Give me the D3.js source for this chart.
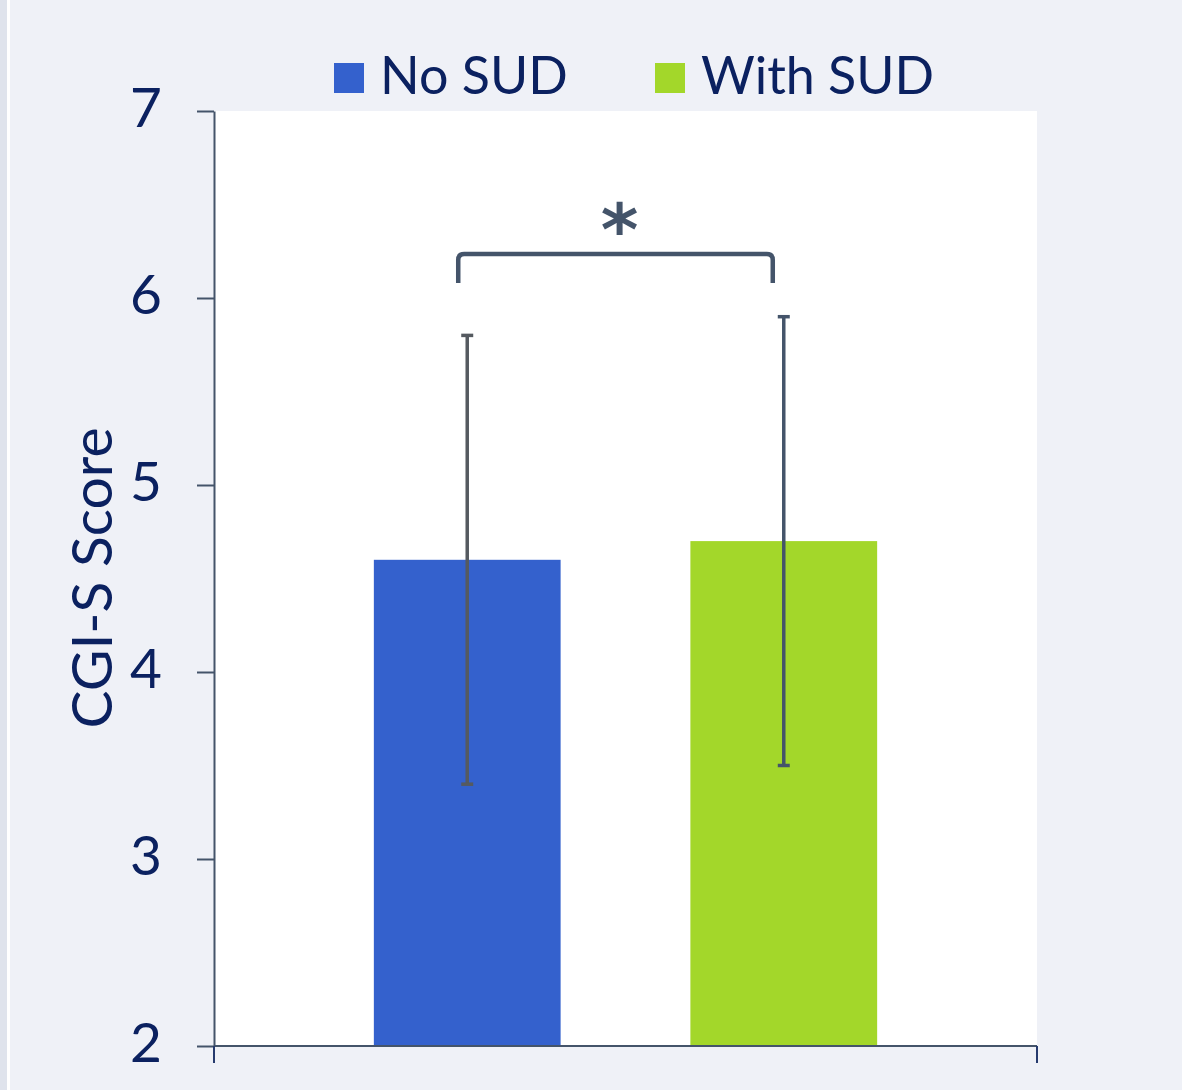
<!DOCTYPE html>
<html>
<head>
<meta charset="utf-8">
<script src="https://cdn.jsdelivr.net/npm/d3@7"></script>
<style>
  html, body { margin: 0; padding: 0; background: #eff1f7; }
  svg { display: block; }
</style>
</head>
<body>
<svg id="chart" width="1182" height="1090"></svg>
<script>
// CGI-S score by substance use disorder status
const groups = ["No SUD", "With SUD"];
const means = [4.6, 4.7];
const errLow = [3.4, 3.5];
const errHigh = [5.8, 5.9];
const colors = ["#3461cd", "#a3d72a"];
const errColors = ["#555a60", "#44546a"];
const yTicks = [2, 3, 4, 5, 6, 7];
const yTitle = "CGI-S Score";
const sigLabel = "*";

const svg = d3.select("#chart");
const W = 1182, H = 1090;
const textColor = "#0b2160";
const axisColor = "#44546a";
const fontFam = "'Lato', 'Open Sans', sans-serif";

// left edge strip
svg.append("rect").attr("x", 0).attr("y", 0).attr("width", 7).attr("height", H).attr("fill", "#dfe3ec");
svg.append("rect").attr("x", 7).attr("y", 0).attr("width", 3).attr("height", H).attr("fill", "#ffffff");

const plot = { left: 214, right: 1037, top: 111, bottom: 1046 };

const y = d3.scaleLinear().domain([2, 7]).range([plot.bottom, plot.top]);
const x = d3.scaleBand().domain(groups).range([plot.left, plot.right]).paddingInner(0.41).paddingOuter(0.505);

// plot area
svg.append("rect")
  .attr("x", plot.left).attr("y", plot.top)
  .attr("width", plot.right - plot.left).attr("height", plot.bottom - plot.top)
  .attr("fill", "#ffffff");

// bars
svg.selectAll("rect.bar").data(groups).enter().append("rect")
  .attr("class", "bar")
  .attr("x", d => x(d))
  .attr("width", x.bandwidth())
  .attr("y", (d, i) => y(means[i]))
  .attr("height", (d, i) => y(2) - y(means[i]))
  .attr("fill", (d, i) => colors[i]);

// y axis
const yAxis = d3.axisLeft(y).tickValues(yTicks).tickFormat(d3.format("d"))
  .tickSize(17).tickSizeOuter(0).tickPadding(35);
const gy = svg.append("g").attr("transform", `translate(${plot.left},0)`).call(yAxis);
gy.select(".domain").attr("stroke", axisColor).attr("stroke-width", 2);
gy.selectAll(".tick line").attr("stroke", axisColor).attr("stroke-width", 2);
gy.selectAll(".tick text")
  .attr("fill", textColor)
  .attr("font-family", fontFam)
  .attr("font-size", 55)
  .attr("dy", "0.29em");

// x axis baseline with end ticks
const gx = svg.append("g").attr("transform", `translate(0,${plot.bottom})`);
gx.append("line").attr("x1", plot.left).attr("x2", plot.right).attr("stroke", axisColor).attr("stroke-width", 2);
gx.selectAll("line.edge").data([plot.left, plot.right]).enter().append("line")
  .attr("class", "edge")
  .attr("x1", d => d).attr("x2", d => d)
  .attr("y1", 0).attr("y2", 17)
  .attr("stroke", "#263a6e").attr("stroke-width", 2);

// error bars
const cx = (d) => x(d) + x.bandwidth() / 2;
const eg = svg.selectAll("g.err").data(groups).enter().append("g").attr("class", "err");
eg.append("line")
  .attr("x1", d => cx(d)).attr("x2", d => cx(d))
  .attr("y1", (d, i) => y(errLow[i])).attr("y2", (d, i) => y(errHigh[i]))
  .attr("stroke", (d, i) => errColors[i]).attr("stroke-width", 3.5);
eg.selectAll("line.cap").data((d, i) => [[d, i, errLow[i]], [d, i, errHigh[i]]]).enter().append("line")
  .attr("class", "cap")
  .attr("x1", e => cx(e[0]) - 6).attr("x2", e => cx(e[0]) + 6)
  .attr("y1", e => y(e[2])).attr("y2", e => y(e[2]))
  .attr("stroke", e => errColors[e[1]]).attr("stroke-width", 3.5);

// significance bracket
const bx0 = cx(groups[0]) - 9, bx1 = cx(groups[1]) - 11;
const bTop = y(6.235), bBot = y(6.08), r = 6;
svg.append("path")
  .attr("d", `M${bx0},${bBot} V${bTop + r} Q${bx0},${bTop} ${bx0 + r},${bTop} H${bx1 - r} Q${bx1},${bTop} ${bx1},${bTop + r} V${bBot}`)
  .attr("fill", "none").attr("stroke", axisColor).attr("stroke-width", 4.5);
svg.append("text")
  .attr("x", (bx0 + bx1) / 2 + 4).attr("y", bTop + 1)
  .attr("text-anchor", "middle")
  .attr("fill", axisColor)
  .attr("font-family", "'DejaVu Sans', sans-serif")
  .attr("font-weight", "bold")
  .attr("font-size", 72)
  .text(sigLabel);

// y axis title
svg.append("text")
  .attr("transform", `translate(112,578) rotate(-90)`)
  .attr("text-anchor", "middle")
  .attr("fill", textColor)
  .attr("font-family", fontFam)
  .attr("font-size", 57)
  .text(yTitle);

// legend
const legendX = [334, 655];
const lg = svg.selectAll("g.legend").data(groups).enter().append("g")
  .attr("class", "legend")
  .attr("transform", (d, i) => `translate(${legendX[i]},63)`);
lg.append("rect").attr("width", 30).attr("height", 30).attr("fill", (d, i) => colors[i]);
lg.append("text")
  .attr("x", 46).attr("y", 31)
  .attr("fill", textColor)
  .attr("font-family", fontFam)
  .attr("font-size", 52)
  .text(d => d);
</script>
</body>
</html>
